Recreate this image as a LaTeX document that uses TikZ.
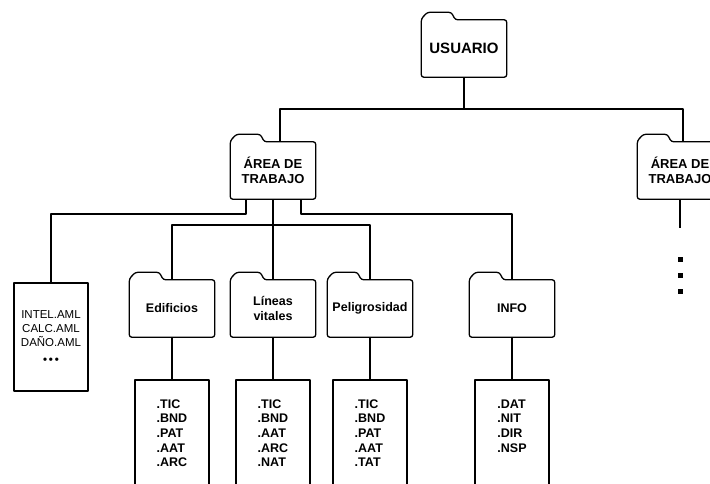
\documentclass[tikz,border=0pt]{standalone}
\usepackage{fontspec}
\setmainfont{Liberation Sans}
\usetikzlibrary{positioning, calc}

\begin{document}
\begin{tikzpicture}[x=1pt, y=-1pt, line join=round,
  conn/.style={line width=1.6pt},
  folder/.style={minimum width=85pt, minimum height=57pt, inner sep=0pt, align=center, font=\fontsize{12.5}{15.5}\selectfont\bfseries},
  foldline/.style={line width=1.3pt, rounded corners=2.5pt},
  filebox/.style={draw, line width=1.4pt, minimum width=74pt, minimum height=120pt, inner sep=0pt},
  filelist/.style={inner sep=0pt, align=left, font=\fontsize{12.5}{14.7}\selectfont\bfseries}]
  \useasboundingbox (0,0) rectangle (710,484);
  % folders
  \node[folder, font=\fontsize{15}{17}\selectfont\bfseries] (usr) at (464,48.5) {USUARIO};
  \node[folder, font=\fontsize{13}{15.5}\selectfont\bfseries] (at1) at (273,170.5) {ÁREA DE\\TRABAJO};
  \node[folder, font=\fontsize{13}{15.5}\selectfont\bfseries] (at2) at (680,170.5) {ÁREA DE\\TRABAJO};
  \node[folder] (edif) at (172,308.5) {Edificios};
  \node[folder] (lin) at (273,308.5) {Líneas\\vitales};
  \node[folder] (pel) at (370,308.5) {Peligrosidad};
  \node[folder] (info) at (512,308.5) {INFO};
  \foreach \f in {usr, at1, at2, edif, lin, pel, info}
    \draw[foldline] ($(\f.north west)+(0,-1)$) -- ($(\f.north west)+(6,-7.5)$) -- ($(\f.north west)+(30,-7.5)$) -- ($(\f.north west)+(34,0)$) -- (\f.north east) -- (\f.south east) -- (\f.south west) -- cycle;
  % files
  \node[draw, line width=1.4pt, minimum width=74pt, minimum height=108pt, align=center, font=\fontsize{11.5}{14}\selectfont] (intel) at (51,337) {INTEL.AML\\CALC.AML\\DAÑO.AML\\[3pt]\textbf{•\,•\,•}};
  \node[filebox, below=42pt of edif] (b1) {};
  \node[filebox, below=42pt of lin] (b2) {};
  \node[filebox, below=42pt of pel] (b3) {};
  \node[filebox, below=42pt of info] (b4) {};
  \node[filelist, below=20pt of b1.north] (l1) {.TIC\\.BND\\.PAT\\.AAT\\.ARC};
  \node[filelist, below=20pt of b2.north] (l2) {.TIC\\.BND\\.AAT\\.ARC\\.NAT};
  \node[filelist, below=20pt of b3.north] (l3) {.TIC\\.BND\\.PAT\\.AAT\\.TAT};
  \node[filelist, below=20pt of b4.north] (l4) {.DAT\\.NIT\\.DIR\\.NSP};
  % connectors
  \path (usr.south) ++(0,32) coordinate (bus);
  \draw[conn] (usr.south) -- (bus);
  \draw[conn] ([xshift=7pt]at1.north) |- (bus) -| ([xshift=3pt]at2.north);
  \draw[conn] ([xshift=-27pt]at1.south) -- ++(0,15) -| (intel.north);
  \draw[conn] ([xshift=28pt]at1.south) -- ++(0,15) -| (info.north);
  \draw[conn] (at1.south) -- ++(0,26) coordinate (mid);
  \draw[conn] (edif.north) |- (mid) -| (pel.north);
  \draw[conn] (mid) -- (lin.north);
  \foreach \f/\b in {edif/b1, lin/b2, pel/b3, info/b4}
    \draw[conn] (\f.south) -- (\b.north);
  \draw[conn] (at2.south) -- ++(0,29);
  \foreach \d in {60,76,92}
    \fill ($(at2.south)+(-2.5,\d-2.5)$) rectangle ++(5,5);
\end{tikzpicture}
\end{document}
